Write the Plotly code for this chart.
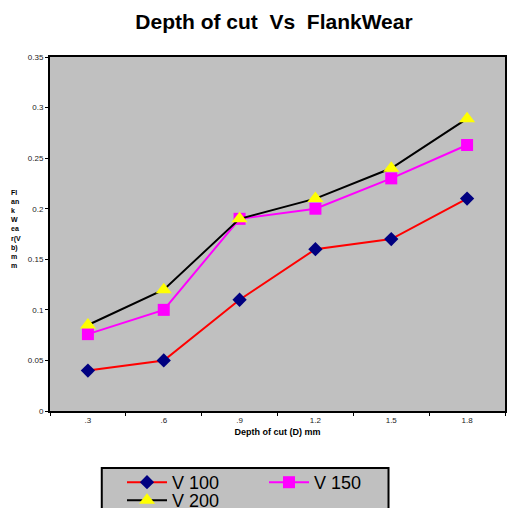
import plotly.graph_objects as go

depth_labels = [".3", ".6", ".9", "1.2", "1.5", "1.8"]
v100 = [0.04, 0.05, 0.11, 0.16, 0.17, 0.21]
v150 = [0.076, 0.10, 0.19, 0.20, 0.23, 0.263]
v200 = [0.085, 0.12, 0.19, 0.21, 0.24, 0.289]
y_ticks = [0, 0.05, 0.1, 0.15, 0.2, 0.25, 0.3, 0.35]

FONT = "Arial, Liberation Sans, sans-serif"
W, H = 507, 508
ML, MT, MB = 50, 57, 97
PW, PH = W - ML, H - MT - MB


def px_x(x):
    return (x - ML) / PW


def px_y(y):
    return 1 - (y - MT) / PH


fig = go.Figure()
fig.add_trace(go.Scatter(x=depth_labels, y=v100, name="V 100", mode="lines+markers",
                         line=dict(color="#ff0000", width=2),
                         marker=dict(symbol="diamond", size=11, color="#000080"),
                         legend="legend"))
fig.add_trace(go.Scatter(x=depth_labels, y=v150, name="V 150", mode="lines+markers",
                         line=dict(color="#ff00ff", width=2),
                         marker=dict(symbol="square", size=12, color="#ff00ff"),
                         legend="legend"))
fig.add_trace(go.Scatter(x=depth_labels, y=v200, name="V 200", mode="lines+markers",
                         line=dict(color="#000000", width=2),
                         marker=dict(symbol="triangle-up", size=14, color="#ffff00"),
                         legend="legend2"))

legend_common = dict(orientation="h", xref="container", yref="container",
                     xanchor="left", yanchor="top",
                     bgcolor="rgba(0,0,0,0)", borderwidth=0,
                     itemwidth=40, entrywidth=87,
                     font=dict(size=18, family=FONT, color="black"))

fig.update_layout(
    width=W, height=H,
    margin=dict(l=ML, r=0, t=MT, b=MB),
    paper_bgcolor="white",
    plot_bgcolor="#c0c0c0",
    font=dict(family=FONT, color="black"),
    title=dict(text="<b>Depth of cut\u00a0\u00a0Vs\u00a0\u00a0FlankWear</b>",
               x=274 / W, xref="container", xanchor="center",
               y=1 - 22 / H, yref="container", yanchor="middle",
               font=dict(size=21, family=FONT, color="black")),
    xaxis=dict(type="category", range=[-0.5, 5.5], tickson="boundaries",
               ticks="outside", ticklen=3, tickwidth=1, tickcolor="black",
               showgrid=False, zeroline=False, mirror=True,
               showline=True, linecolor="black", linewidth=2,
               tickfont=dict(size=8, family=FONT, color="#222"),
               title=dict(text="<b>Depth of cut (D) mm</b>", standoff=5,
                          font=dict(size=9, family=FONT))),
    yaxis=dict(range=[0, 0.35], tickvals=y_ticks,
               ticktext=[f"{v:g}" for v in y_ticks],
               ticks="outside", ticklen=3, tickwidth=1, tickcolor="black",
               showgrid=False, zeroline=False,
               showline=True, linecolor="black", linewidth=2, mirror=True,
               tickfont=dict(size=8, family=FONT, color="#222")),
    legend=dict(x=122 / W, y=1 - 464 / H, **legend_common),
    legend2=dict(x=122 / W, y=1 - 482 / H, **legend_common),
    showlegend=True,
)

# legend frame
fig.add_shape(type="rect", xref="paper", yref="paper",
              x0=px_x(102), x1=px_x(390), y0=px_y(540), y1=px_y(468),
              fillcolor="#c0c0c0", line=dict(color="black", width=2), layer="above")

fig.add_annotation(text="<b>Fl<br>an<br>k<br>W<br>ea<br>r(V<br>b)<br>m<br>m</b>",
                   xref="paper", yref="paper", x=px_x(9), xanchor="left",
                   y=px_y(229), yanchor="middle", showarrow=False, align="left",
                   font=dict(size=7, family=FONT, color="black"))

fig.write_html("out.html")
